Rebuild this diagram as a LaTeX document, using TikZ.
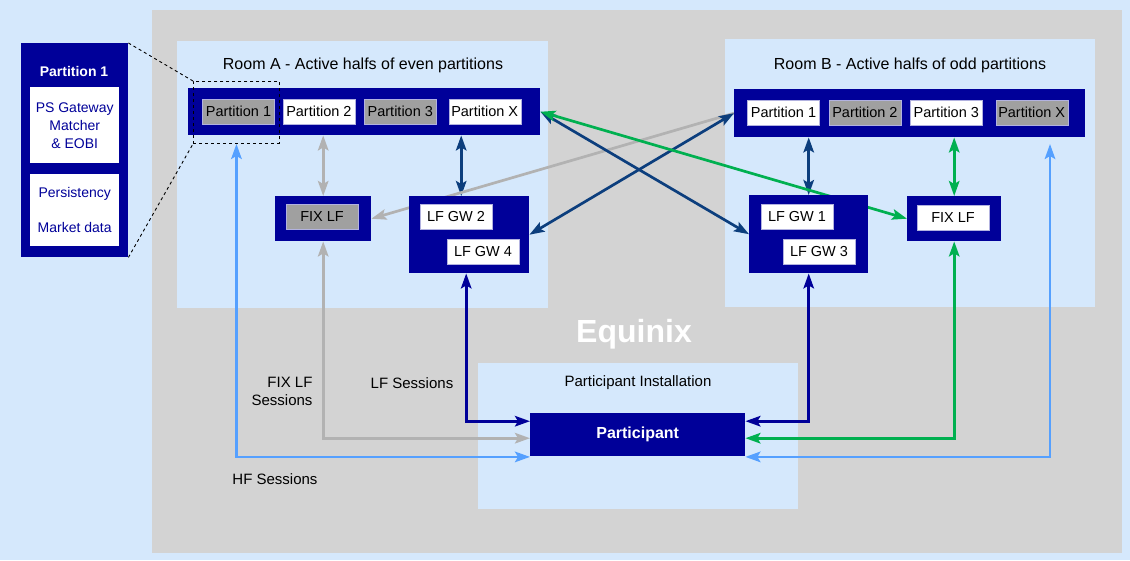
\documentclass[tikz,border=0pt]{standalone}
\usepackage{fontspec}
\setmainfont{Liberation Sans}
\usetikzlibrary{arrows.meta,calc,positioning}
\definecolor{pagebg}{RGB}{213,232,252}
\definecolor{zone}{RGB}{211,211,211}
\definecolor{dc}{RGB}{0,0,153}
\definecolor{lfblue}{RGB}{12,62,125}
\definecolor{hfblue}{RGB}{85,160,255}
\definecolor{fixgreen}{RGB}{0,176,80}
\definecolor{fixgray}{RGB}{178,178,178}
\definecolor{pgray}{RGB}{160,160,160}
\pgfdeclarelayer{bg}
\pgfdeclarelayer{back}
\pgfsetlayers{bg,back,main}
\tikzset{tipA/.tip={Stealth[length=15pt,width=10.5pt,inset=3pt]},
  link/.style={line width=2.7pt, tipA-tipA},
  oneway/.style={line width=2.7pt, -tipA},
  room/.style={fill=pagebg, anchor=north west, inner sep=0},
  blk/.style={fill=dc, anchor=north west, inner sep=0},
  pbox/.style={draw=white!70!dc, line width=0.4pt, minimum width=72, minimum height=25,
    inner sep=1pt, font=\fontsize{14.5}{16}\selectfont},
  wpart/.style={pbox, fill=white},
  gpart/.style={pbox, fill=pgray},
  lbl/.style={font=\fontsize{15}{18}\selectfont}}

\begin{document}
\begin{tikzpicture}[x=1pt, y=-1pt]
  \useasboundingbox (0,0) rectangle (1130,560);
  \begin{pgfonlayer}{bg}
    \fill[pagebg] (0,0) rectangle (1130,560);
    \fill[zone] (152,10) rectangle (1122,553);
    \node[room, minimum width=371, minimum height=267] (roomA) at (177,41) {};
    \node[room, minimum width=370, minimum height=268] (roomB) at (725,39) {};
    \node[room, minimum width=320, minimum height=146] (inst) at (478,363) {};
  \end{pgfonlayer}
  \node[lbl, font=\fontsize{16}{18}\selectfont] (titleA) at (363,65) {Room A - Active halfs of even partitions};
  \node[lbl, font=\fontsize{16}{18}\selectfont] (titleB) at (910,65) {Room B - Active halfs of odd partitions};
  \node[text=white, font=\bfseries\fontsize{32}{36}\selectfont] (site) at (634,334) {Equinix};
  \node[lbl] (instl) at (638,383) {Participant Installation};

  % room A
  \node[blk, minimum width=352, minimum height=47] (barA) at (188,88) {};
  \node[gpart] (a1) at (238.5,111.5) {Partition 1};
  \node[wpart, right=8pt of a1] (a2) {Partition 2};
  \node[gpart, right=9pt of a2] (a3) {Partition 3};
  \node[wpart, right=12pt of a3] (ax) {Partition X};
  \node[blk, minimum width=96, minimum height=45] (fixA) at (275,196) {};
  \node[gpart] (fixAi) at (322,217) {FIX LF};
  \node[blk, minimum width=120, minimum height=77] (gwA) at (409,196) {};
  \node[wpart] (gw2) at (456,217) {LF GW 2};
  \node[wpart] (gw4) at (483,251.5) {LF GW 4};

  % room B
  \node[blk, minimum width=351, minimum height=48] (barB) at (734,89) {};
  \node[wpart] (b1) at (783.5,112.5) {Partition 1};
  \node[gpart, right=9pt of b1] (b2) {Partition 2};
  \node[wpart, right=9pt of b2] (b3) {Partition 3};
  \node[gpart, right=13pt of b3] (bx) {Partition X};
  \node[blk, minimum width=119, minimum height=78] (gwB) at (749,195) {};
  \node[wpart] (gw1) at (797,217) {LF GW 1};
  \node[wpart] (gw3) at (819,251.5) {LF GW 3};
  \node[blk, minimum width=94, minimum height=45] (fixB) at (907,196) {};
  \node[wpart] (fixBi) at (953,217.5) {FIX LF};

  % participant
  \node[blk, minimum width=215, minimum height=43, text=white,
    font=\bfseries\fontsize{16}{18}\selectfont] (ptc) at (530,413) {Participant};

  % partition 1 detail
  \node[blk, minimum width=107, minimum height=214] (detail) at (21,43) {};
  \node[text=white, font=\bfseries\fontsize{14}{16}\selectfont] (dtitle) at (74,71) {Partition 1};
  \node[fill=white, anchor=north west, minimum width=89, minimum height=76, inner sep=0,
    align=center, text=dc, font=\fontsize{14}{18}\selectfont] (dproc) at (30,87) {PS Gateway\\Matcher\\\& EOBI};
  \node[fill=white, anchor=north west, minimum width=89, minimum height=72, inner sep=0,
    align=center, text=dc, font=\fontsize{14}{18}\selectfont] (dstore) at (30,174) {Persistency\\[17pt]Market data};
  \node[draw, dashed, line width=0.9pt, anchor=north west, minimum width=86, minimum height=62,
    inner sep=0] (zoomA) at (193,81) {};
  \draw[dashed, line width=0.9pt] (detail.north east) -- (zoomA.north west);
  \draw[dashed, line width=0.9pt] (detail.south east) -- (zoomA.south west);

  % session labels
  \node[lbl, anchor=east, align=right] (fixlbl) at (316,391) {FIX LF\\Sessions};
  \node[lbl] (lflbl) at (412,383) {LF Sessions};
  \node[lbl] (hflbl) at (275,479) {HF Sessions};
  \coordinate (hfB) at (1050,144);

  \begin{pgfonlayer}{back}
    % inside the rooms
    \draw[link, fixgray] (barA.south -| fixA.north) -- (fixA.north);
    \draw[link, lfblue] ([xshift=-8]gwA.north |- barA.south) -- ([xshift=-8]gwA.north);
    \draw[link, lfblue] (barB.south -| gwB.north) -- (gwB.north);
    \draw[link, fixgreen] (barB.south -| fixB.north) -- (fixB.north);
    % between the rooms
    \draw[oneway, fixgray] (barB.west) -- (fixA.east);
    \draw[link, lfblue] (gwA.east) -- (barB.west);
    \draw[link, lfblue] (barA.east) -- (gwB.west);
    \draw[link, fixgreen] (barA.east) -- (fixB.west);
    % sessions to the participant
    \draw[link, hfblue] (zoomA.south) |- ([yshift=-0.5]ptc.south west);
    \draw[link, fixgray] (fixA.south) |- ([yshift=-3.5]ptc.west);
    \draw[link, dc] ([xshift=-3]gwA.south) |- ([yshift=13.5]ptc.west);
    \draw[link, dc] (gwB.south) |- ([yshift=13.5]ptc.east);
    \draw[link, fixgreen] (fixB.south) |- ([yshift=-3.5]ptc.east);
    \draw[link, hfblue] (hfB) |- ([yshift=-0.5]ptc.south east);
  \end{pgfonlayer}
\end{tikzpicture}
\end{document}
